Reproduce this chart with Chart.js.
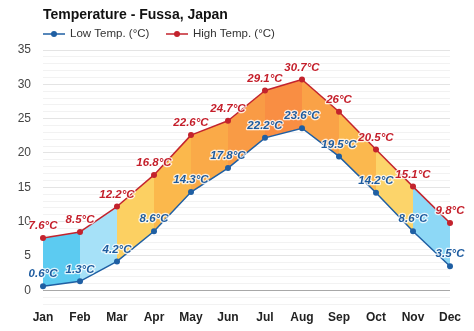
<!DOCTYPE html>
<html>
<head>
<meta charset="utf-8">
<script src="https://cdn.jsdelivr.net/npm/chart.js@4.4.1/dist/chart.umd.min.js"></script>
<style>
  html, body { margin: 0; padding: 0; background: #ffffff; }
  #wrap { width: 474px; height: 331px; position: relative; }
</style>
</head>
<body>
<div id="wrap"><canvas id="c" width="474" height="331"></canvas></div>
<script>
// Monthly climate data for Fussa, Japan (°C)
const months = ['Jan', 'Feb', 'Mar', 'Apr', 'May', 'Jun', 'Jul', 'Aug', 'Sep', 'Oct', 'Nov', 'Dec'];
const lowTemps = [0.6, 1.3, 4.2, 8.6, 14.3, 17.8, 22.2, 23.6, 19.5, 14.2, 8.6, 3.5];
const highTemps = [7.6, 8.5, 12.2, 16.8, 22.6, 24.7, 29.1, 30.7, 26, 20.5, 15.1, 9.8];
const yTickLabels = [0, 5, 10, 15, 20, 25, 30, 35];

// Band colour for each month-to-month span (cold = blue, warm = orange)
const bandColors = ['#5ccbf1', '#a6e1f8', '#fcd062', '#fbb84c', '#faaa48', '#f99b45',
                    '#f98e43', '#faa247', '#fbb84e', '#fcd46a', '#8dd8f6'];

const LOW_COLOR = '#1f5fa3';
const HIGH_COLOR = '#c3232d';
const FONT = '"Liberation Sans", Arial, sans-serif';

// Title, legend and value labels drawn straight on the canvas
const decorations = {
  id: 'decorations',
  afterDraw(chart) {
    const ctx = chart.ctx;
    ctx.save();
    ctx.fillStyle = '#111';
    ctx.font = 'bold 14px ' + FONT;
    ctx.textBaseline = 'middle';
    ctx.textAlign = 'left';
    ctx.fillText('Temperature - Fussa, Japan', 43, 15);

    const legendItems = [
      { text: 'Low Temp. (°C)', color: LOW_COLOR, x: 43 },
      { text: 'High Temp. (°C)', color: HIGH_COLOR, x: 166 }
    ];
    ctx.font = '11.5px ' + FONT;
    legendItems.forEach(item => {
      const y = 34;
      ctx.strokeStyle = item.color;
      ctx.lineWidth = 1.5;
      ctx.beginPath();
      ctx.moveTo(item.x, y);
      ctx.lineTo(item.x + 22, y);
      ctx.stroke();
      ctx.fillStyle = item.color;
      ctx.beginPath();
      ctx.arc(item.x + 11, y, 3, 0, Math.PI * 2);
      ctx.fill();
      ctx.fillStyle = '#333';
      ctx.fillText(item.text, item.x + 27, y);
    });
    ctx.restore();
  },
  afterDatasetsDraw(chart) {
    const ctx = chart.ctx;
    ctx.save();
    ctx.font = 'italic bold 11.5px ' + FONT;
    ctx.textAlign = 'center';
    ctx.textBaseline = 'middle';
    ctx.lineJoin = 'round';
    chart.data.datasets.forEach((ds, di) => {
      const meta = chart.getDatasetMeta(di);
      meta.data.forEach((pt, i) => {
        const label = ds.data[i] + '°C';
        const x = pt.x, y = pt.y - 12;
        ctx.strokeStyle = 'rgba(255,255,255,0.8)';
        ctx.lineWidth = 2.5;
        ctx.strokeText(label, x, y);
        ctx.fillStyle = ds.labelColor;
        ctx.fillText(label, x, y);
      });
    });
    ctx.restore();
  }
};

new Chart(document.getElementById('c'), {
  type: 'line',
  data: {
    labels: months,
    datasets: [
      {
        label: 'Low Temp. (°C)',
        data: lowTemps,
        borderColor: LOW_COLOR,
        backgroundColor: LOW_COLOR,
        pointBackgroundColor: LOW_COLOR,
        labelColor: '#1d5b9f',
        borderWidth: 1.5,
        pointRadius: 3,
        pointBorderWidth: 0,
        fill: false,
        tension: 0
      },
      {
        label: 'High Temp. (°C)',
        data: highTemps,
        borderColor: HIGH_COLOR,
        backgroundColor: '#fbb84c',
        pointBackgroundColor: HIGH_COLOR,
        labelColor: '#c41e2a',
        borderWidth: 1.5,
        pointRadius: 3,
        pointBorderWidth: 0,
        fill: '-1',
        tension: 0,
        segment: {
          backgroundColor: c => bandColors[c.p0DataIndex]
        }
      }
    ]
  },
  options: {
    responsive: false,
    animation: false,
    layout: { padding: { top: 50, right: 24, left: 0, bottom: 0 } },
    plugins: {
      legend: { display: false },
      title: { display: false },
      tooltip: { enabled: false }
    },
    scales: {
      x: {
        offset: false,
        grid: { display: false, drawTicks: false },
        border: { display: false },
        ticks: {
          color: '#222',
          font: { family: FONT, size: 12, weight: 'bold' },
          padding: 6,
          maxRotation: 0,
          autoSkip: false
        },
        afterFit: s => { s.height = 27; }
      },
      y: {
        min: -2,
        max: 35,
        border: { display: false },
        grid: {
          drawTicks: false,
          lineWidth: 1,
          color: c => {
            const v = c.tick.value;
            if (v === 0) return '#a8a8a8';
            if (v % 5 === 0) return '#e4e4e4';
            return '#f2f2f2';
          }
        },
        ticks: {
          stepSize: 1,
          autoSkip: false,
          padding: 12,
          color: '#444',
          font: { family: FONT, size: 12 },
          callback: v => (yTickLabels.includes(v) ? String(v) : '')
        },
        afterFit: s => { s.width = 43; }
      }
    }
  },
  plugins: [decorations]
});
</script>
</body>
</html>
